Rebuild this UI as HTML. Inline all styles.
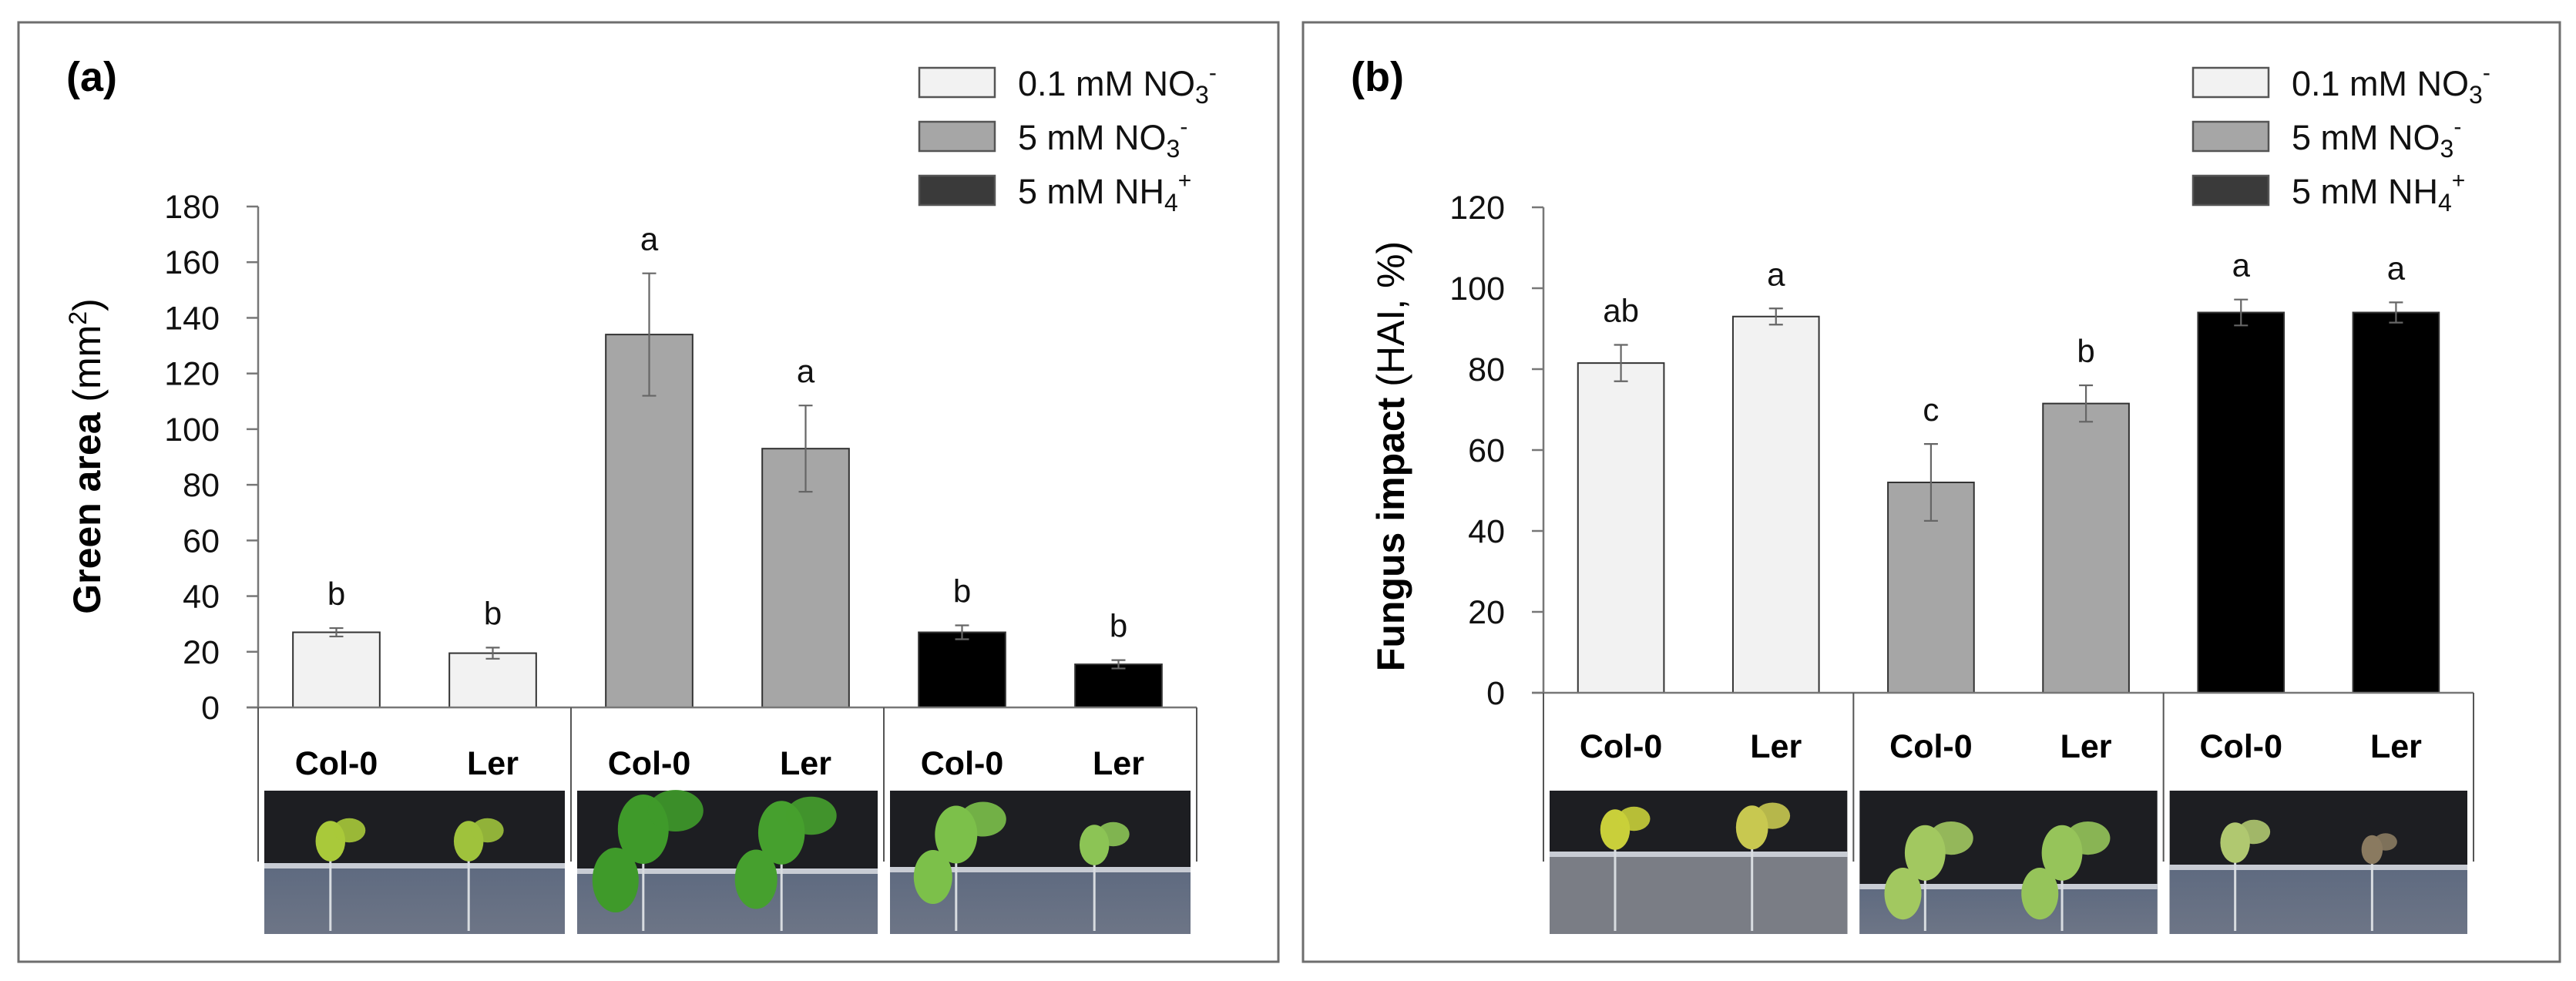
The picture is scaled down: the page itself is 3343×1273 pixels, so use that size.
<!DOCTYPE html>
<html><head><meta charset="utf-8"><style>
html,body{margin:0;padding:0;background:#fff;}
svg{display:block;font-family:"Liberation Sans",sans-serif;}
</style></head><body>
<svg id="fig" width="3343" height="1273" viewBox="0 0 3343 1273" xmlns="http://www.w3.org/2000/svg">
<defs>
<linearGradient id="soil" x1="0" y1="0" x2="0" y2="1"><stop offset="0" stop-color="#5e6a80"/><stop offset="1" stop-color="#6d7586"/></linearGradient>
</defs>
<g id="layer"></g>
</svg>
<script>
// ---- data ----
const categories = ["Col-0","Ler","Col-0","Ler","Col-0","Ler"];
const seriesNames = ["0.1 mM NO3-","5 mM NO3-","5 mM NH4+"];
const greenValues = [27, 19.5, 134, 93, 27, 15.5];
const greenErrors = [1.5, 2, 22, 15.5, 2.5, 1.5];
const greenLetters = ["b","b","a","a","b","b"];
const greenTicks = [0,20,40,60,80,100,120,140,160,180];
const fungusValues = [81.5, 93, 52, 71.5, 94, 94];
const fungusErrors = [4.5, 2, 9.5, 4.5, 3.2, 2.5];
const fungusLetters = ["ab","a","c","b","a","a"];
const fungusTicks = [0,20,40,60,80,100,120];

const NS = "http://www.w3.org/2000/svg";
const layer = document.getElementById("layer");
const barColors = ["#f2f2f2","#a6a6a6","#000000"];
const legendColors = ["#f2f2f2","#a6a6a6","#3a3a3a"];
function mk(tag, attrs, parent){
  const e = document.createElementNS(NS, tag);
  for (const k in attrs) e.setAttribute(k, attrs[k]);
  (parent||layer).appendChild(e);
  return e;
}

function panel(cfg){
  const g = mk("g", {});
  
  
  // border
  const b = mk("rect", {x:cfg.bx, y:29, width:cfg.bw, height:1219, fill:"none", stroke:"#6e6e6e", "stroke-width":3}, g);
  
  
  const yScale = v => cfg.y0 - (v - 0) / cfg.ymax * (cfg.y0 - cfg.ytop);
  const slot = (cfg.ax1 - cfg.ax0) / categories.length;
  const xCenter = i => cfg.ax0 + slot * (i + 0.5);
  const bw = slot * 0.555;
  // label
  const lab = mk("text", {x:cfg.bx+62, y:118, "font-size":54, "font-weight":"bold", fill:"#000"}, g);
  lab.textContent = cfg.label;
  
  
  // y axis
  const ya = mk("line", {x1:cfg.ax0, y1:cfg.ytop, x2:cfg.ax0, y2:cfg.y0, stroke:"#777", "stroke-width":2.5}, g);
  
  
  cfg.ticks.forEach(t => {
    const y = yScale(t);
    const tk = mk("line", {x1:cfg.ax0-15, y1:y, x2:cfg.ax0, y2:y, stroke:"#777", "stroke-width":2.5}, g);
    
    
    const tl = mk("text", {x:cfg.ax0-50, y:y+15, "font-size":43, "text-anchor":"end", fill:"#111"}, g);
    tl.textContent = t;
    
    
  });
  // title
  const tt = mk("text", {x:0, y:0, "font-size":50, "text-anchor":"middle", fill:"#000", transform:`translate(${cfg.titleX},592) rotate(-90)`}, g);
  
  
  tt.innerHTML = cfg.title;
  // bars
  cfg.values.forEach((v,i) => {
    const cx = xCenter(i);
    const grp = Math.floor(i/2);
    const r = mk("rect", {x:cx-bw/2, y:yScale(v), width:bw, height:cfg.y0-yScale(v), fill:barColors[grp], stroke:"#333", "stroke-width":2}, g);
    
    
    const e = cfg.errors[i];
    const yt = yScale(v+e), yb = yScale(v-e);
    const eb = mk("path", {d:`M${cx},${yt}V${yb}M${cx-9},${yt}H${cx+9}M${cx-9},${yb}H${cx+9}`, stroke:"#666", "stroke-width":2.2, fill:"none"}, g);
    
    
    const lt = mk("text", {x:cx, y:yt-30, "font-size":42, "text-anchor":"middle", fill:"#111"}, g);
    lt.textContent = cfg.letters[i];
    
    
  });
  // x axis
  const xa = mk("line", {x1:cfg.ax0-15, y1:cfg.y0, x2:cfg.ax1, y2:cfg.y0, stroke:"#777", "stroke-width":2.5}, g);
  
  
  [0,2,4,6].forEach(k => {
    const x = cfg.ax0 + slot*k;
    const s = mk("line", {x1:x, y1:cfg.y0, x2:x, y2:1118, stroke:"#555", "stroke-width":2}, g);
    
    
  });
  categories.forEach((c,i) => {
    const t = mk("text", {x:xCenter(i), y:cfg.labelY, "font-size":43, "font-weight":"bold", "text-anchor":"middle", fill:"#000"}, g);
    t.textContent = c;
    
    
  });
  // photos
  for (let k=0;k<3;k++){
    const px = cfg.ax0 + slot*2*k + 8, pw = slot*2 - 16;
    const pg = mk("g", {}, g);
    
    
    const hz = cfg.horizon[k];
    mk("rect", {x:px, y:1026, width:pw, height:186, fill:"#1d1e22"}, pg);
    mk("rect", {x:px, y:hz, width:pw, height:1212-hz, fill:k===0&&cfg.label==="(b)"?"#7a7d85":"url(#soil)"}, pg);
    mk("rect", {x:px, y:hz-3, width:pw, height:7, fill:"#c8ccd4"}, pg);
    [0.22,0.68].forEach((f,j) => {
      const sx = px + pw*f;
      const col = cfg.plantCol[k][j];
      const sz = cfg.plantSize[k][j];
      mk("line", {x1:sx, y1:hz-10, x2:sx, y2:1208, stroke:"#d8dce0", "stroke-width":3}, pg);
      mk("ellipse", {cx:sx, cy:hz-sz*0.9, rx:sz*0.55, ry:sz*0.75, fill:col}, pg);
      mk("ellipse", {cx:sx+sz*0.7, cy:hz-sz*1.3, rx:sz*0.6, ry:sz*0.45, fill:col, opacity:0.9}, pg);
      if (sz>40) mk("ellipse", {cx:sx-sz*0.6, cy:hz+sz*0.2, rx:sz*0.5, ry:sz*0.7, fill:col}, pg);
    });
  }
  // legend
  seriesNames.forEach((n,j) => {
    const y = 88 + j*70;
    const sw = mk("rect", {x:cfg.legX, y:y, width:98, height:38, fill:legendColors[j], stroke:"#555", "stroke-width":2.5}, g);
    
    
    const t = mk("text", {x:cfg.legX+128, y:y+36, "font-size":45, fill:"#111"}, g);
    const base = n.slice(0, n.length-2), sub = n.slice(-2,-1), sup = n.slice(-1);
    t.innerHTML = base + '<tspan dy="10" font-size="32">' + sub + '</tspan><tspan dy="-30" font-size="30">' + (sup==='-'?'-':'+') + '</tspan>';
    
    
  });
}

panel({name:"panel-a-green-area", label:"(a)", bx:24, bw:1635, ax0:335, ax1:1553, y0:918, ytop:268, ymax:180,
  ticks:greenTicks, values:greenValues, errors:greenErrors, letters:greenLetters,
  title:'<tspan font-weight="bold">Green area</tspan> (mm<tspan dy="-18" font-size="32">2</tspan><tspan dy="18">)</tspan>', titleX:130,
  labelY:1005, legX:1193, horizon:[1123,1130,1128],
  plantCol:[["#a9c93a","#9fc23c"],["#3f9a2a","#46a02e"],["#7cc04a","#8cc455"]],
  plantSize:[[35,35],[60,55],[50,35]]});
panel({name:"panel-b-fungus-impact", label:"(b)", bx:1691, bw:1631, ax0:2003, ax1:3210, y0:899, ytop:269, ymax:120,
  ticks:fungusTicks, values:fungusValues, errors:fungusErrors, letters:fungusLetters,
  title:'<tspan font-weight="bold">Fungus impact</tspan> (HAI, %)', titleX:1822,
  labelY:983, legX:2846, horizon:[1108,1150,1125],
  plantCol:[["#c9cf3a","#c8c850"],["#a2c860","#96c45a"],["#b0c870","#8a7a60"]],
  plantSize:[[35,38],[48,48],[35,25]]});
</script>
</body></html>
